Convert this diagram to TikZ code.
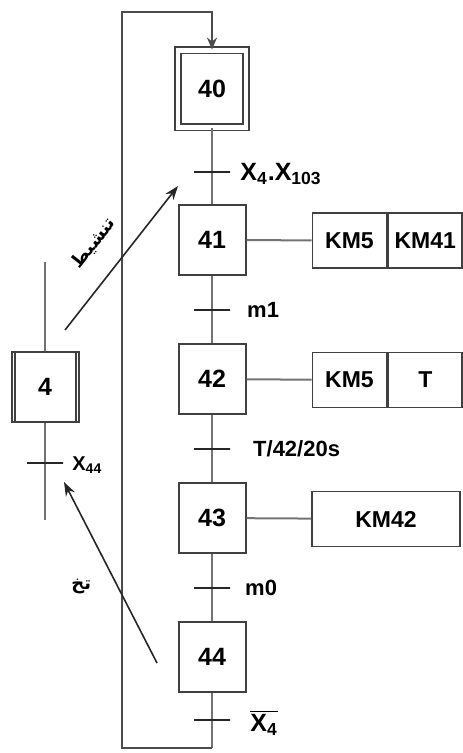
\documentclass[tikz,border=0pt]{standalone}
\usepackage{fontspec}
\setmainfont{Liberation Sans}
\newfontfamily\arabicfont[Script=Arabic]{DejaVu Sans}
\TeXXeTstate=1
\usetikzlibrary{arrows.meta,positioning}

\tikzset{
  stepbox/.style={draw=black!75, line width=1pt, fill=white, minimum width=33.5pt,
    minimum height=35pt, inner sep=0pt, font=\fontsize{12.5}{14}\selectfont\bfseries},
  initstep/.style={stepbox, minimum width=34pt, minimum height=38.5pt,
    double=white, double distance=2.2pt, line width=0.9pt},
  action/.style={draw=black!75, line width=0.9pt, minimum width=37pt, minimum height=27.5pt,
    inner sep=0pt, font=\fontsize{11.5}{13}\selectfont\bfseries},
  trans/.style={draw=black!85, line width=0.8pt, minimum width=18pt, minimum height=0pt,
    inner sep=0pt},
  translabel/.style={font=\fontsize{11}{13}\selectfont\bfseries, inner sep=1pt},
  link/.style={draw=black!55, line width=1pt},
  loopline/.style={draw=black!70, line width=1pt},
  pointer/.style={draw=black!85, line width=0.8pt, -{Stealth[length=7pt,width=5pt]}},
  arlabel/.style={font=\arabicfont\fontsize{9}{11}\selectfont\bfseries, inner sep=1pt}
}

\begin{document}
\begin{tikzpicture}[x=0.5pt, y=-0.5pt]
  \useasboundingbox (0,0) rectangle (462,753);

  % etapes
  \node[initstep] (s40) at (212,89) {40};
  \node[stepbox] (s41) at (212,240) {41};
  \node[stepbox] (s42) at (212,379) {42};
  \node[stepbox] (s43) at (212,518) {43};
  \node[stepbox] (s44) at (212,657) {44};
  \node[stepbox] (s4) at (45,387) {4};
  \draw[line width=1pt, black!75] ([xshift=2pt]s4.north west) -- ([xshift=2pt]s4.south west);
  \draw[line width=1pt, black!75] ([xshift=-2pt]s4.north east) -- ([xshift=-2pt]s4.south east);

  % transitions
  \node[trans] (t1) at (212,172) {};
  \node[trans] (t2) at (212,310) {};
  \node[trans] (t3) at (212,449) {};
  \node[trans] (t4) at (212,588) {};
  \node[trans] (t5) at (212,720) {};
  \node[trans] (t6) at (45,463) {};

  \node[translabel, anchor=west, font=\fontsize{12.5}{14}\selectfont\bfseries] (l1) at (238,174)
    {X\textsubscript{4}.X\textsubscript{103}};
  \node[translabel, right=7pt of t2] (l2) {m1};
  \node[translabel, right=10pt of t3] (l3) {T/42/20s};
  \node[translabel, right=6pt of t4] (l4) {m0};
  \node[translabel, anchor=west, font=\fontsize{12.5}{14}\selectfont\bfseries] (l5) at (248,723)
    {\(\overline{\hbox{X\textsubscript{4}}}\)};
  \node[translabel, anchor=west, font=\fontsize{10}{12}\selectfont\bfseries] (l6) at (70,465)
    {X\textsubscript{44}};

  % liaisons
  \draw[link] (s40) -- (t1) -- (s41);
  \draw[link] (s41) -- (t2) -- (s42);
  \draw[link] (s42) -- (t3) -- (s43);
  \draw[link] (s43) -- (t4) -- (s44);
  \coordinate (lb) at (212,748);
  \coordinate (lbl) at (122,748);
  \coordinate (ltl) at (122,12);
  \coordinate (ltr) at (212,12);
  \draw[link] (s44) -- (t5) -- (lb);
  \draw[loopline, -{Stealth[length=6pt,width=5pt]}] (lb) -- (lbl) -- (ltl) -- (ltr) -- (s40);

  \coordinate (s4top) at (45,262);
  \coordinate (s4bot) at (45,520);
  \draw[link] (s4top) -- (s4);
  \draw[link] (s4) -- (t6) -- (s4bot);

  % actions
  \node[action] (a41a) at (349.5,240.5) {KM5};
  \node[action, anchor=west] (a41b) at (a41a.east) {KM41};
  \node[action] (a42a) at (349.5,380) {KM5};
  \node[action, anchor=west] (a42b) at (a42a.east) {T};
  \node[action, minimum width=74pt] (a43) at (386,519) {KM42};
  \draw[link] (s41) -- (a41a);
  \draw[link] (s42) -- (a42a);
  \draw[link] (s43) -- (a43);

  % fleches d'activation / desactivation
  \coordinate (p1s) at (65,330);
  \coordinate (p1e) at (178,186);
  \coordinate (p2s) at (157,663);
  \coordinate (p2e) at (64,482);
  \draw[pointer] (p1s) -- (p1e)
    node[arlabel, pos=0.47, sloped, above=10pt] (n1) {\beginR تنشيط\endR};
  \draw[pointer] (p2s) -- (p2e)
    node[arlabel, pos=0.42, left=12pt] (n2) {\beginR تخ\endR};
\end{tikzpicture}
\end{document}
